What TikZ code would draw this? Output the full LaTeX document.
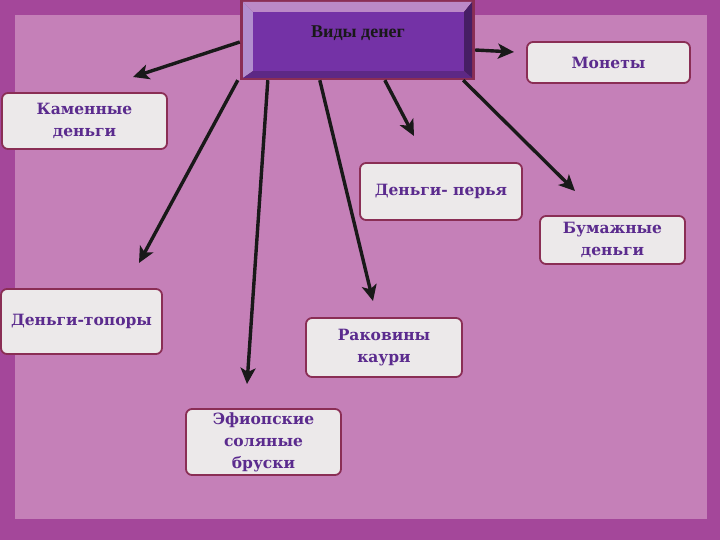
\documentclass[tikz,border=0pt]{standalone}
\usepackage{fontspec}
\setmainfont{Liberation Serif}
\newfontfamily\boxfont{DejaVu Serif}
\usetikzlibrary{arrows.meta}
\definecolor{bgframe}{HTML}{A4479A}
\definecolor{bgpink}{HTML}{C580B8}
\definecolor{boxline}{HTML}{8A2E55}
\definecolor{boxfill}{HTML}{ECE9EA}
\definecolor{txtpurple}{HTML}{5B2B8E}
\definecolor{titlefill}{HTML}{7432A6}

\begin{document}
\begin{tikzpicture}[x=1pt,y=-1pt,
	money/.style={draw=boxline,line width=1.8pt,fill=boxfill,rounded corners=6pt,
		text=txtpurple,font=\boxfont\bfseries\fontsize{15.5}{22}\selectfont,align=center,inner sep=0pt},
	arr/.style={-{Stealth[length=16pt,width=15pt,inset=4pt]},line width=3.4pt,draw=black!90}]
	\useasboundingbox (0,0) rectangle (720,540);
	% background
	\fill[bgframe] (0,0) rectangle (720,540);
	\fill[bgpink] (15,15) rectangle (707,519);
	% title box with bevel
	\fill[boxline] (240,0) rectangle (475,80);
	\fill[violet!35!white!75!titlefill] (243,2) -- (472,2) -- (464,12) -- (253,12) -- cycle;
	\fill[titlefill!55!white] (243,2) -- (253,12) -- (253,71) -- (243,78) -- cycle;
	\fill[titlefill!60!black] (472,2) -- (472,78) -- (464,71) -- (464,12) -- cycle;
	\fill[titlefill!80!black] (243,78) -- (253,71) -- (464,71) -- (472,78) -- cycle;
	\fill[titlefill] (253,12) rectangle (464,71);
	\node[minimum width=235pt,minimum height=80pt,inner sep=0pt] (vid) at (357.5,40) {};
	\node[font=\bfseries\fontsize{18}{21}\selectfont,text=black!90] at (358,33) {Виды денег};
	% boxes
	\node[money,minimum width=163pt,minimum height=41pt] (mon) at (608.5,62.5) {Монеты};
	\node[money,minimum width=165pt,minimum height=56pt] (kam) at (84.5,121) {Каменные\\деньги};
	\node[money,minimum width=162pt,minimum height=57pt] (per) at (441,191.5) {Деньги- перья};
	\node[money,minimum width=145pt,minimum height=48pt] (bum) at (612.5,240) {Бумажные\\деньги};
	\node[money,minimum width=161pt,minimum height=65pt] (top) at (81.5,321.5) {Деньги-топоры};
	\node[money,minimum width=156pt,minimum height=59pt] (rak) at (384,347.5) {Раковины\\каури};
	\node[money,minimum width=155pt,minimum height=66pt] (efi) at (263.5,442) {Эфиопские\\соляные\\бруски};
	% arrow ends
	\coordinate (e-kam) at (133,77);
	\coordinate (e-mon) at (514,52);
	\coordinate (e-per) at (414,136);
	\coordinate (e-bum) at (575,191);
	\coordinate (e-top) at (139,263);
	\coordinate (e-efi) at (247,384);
	\coordinate (e-rak) at (373,301);
	\draw[arr] ([yshift=-2pt]vid.west) -- (e-kam);
	\draw[arr] ([yshift=-10pt]vid.east) -- (e-mon);
	\draw[arr] ([xshift=145pt]vid.south west) -- (e-per);
	\draw[arr] ([xshift=-12pt]vid.south east) -- (e-bum);
	\draw[arr] ([xshift=-2pt]vid.south west) -- (e-top);
	\draw[arr] ([xshift=28pt]vid.south west) -- (e-efi);
	\draw[arr] ([xshift=80pt]vid.south west) -- (e-rak);
\end{tikzpicture}
\end{document}
